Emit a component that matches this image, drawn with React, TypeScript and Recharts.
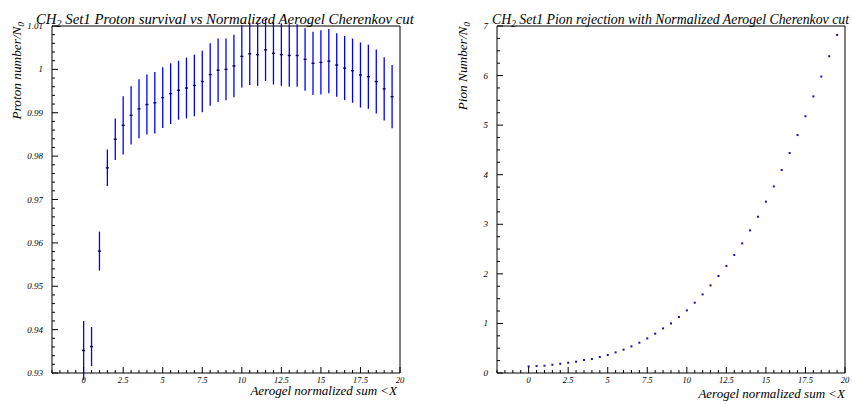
import React from 'react';
import { ScatterChart, Scatter, XAxis, YAxis, ErrorBar, ReferenceArea } from 'recharts';

// Aerogel normalized sum cut values (bin centres)
const xValues = [
  0, 0.5, 1, 1.5, 2, 2.5, 3, 3.5, 4, 4.5, 5, 5.5, 6, 6.5, 7, 7.5, 8, 8.5, 9, 9.5,
  10, 10.5, 11, 11.5, 12, 12.5, 13, 13.5, 14, 14.5, 15, 15.5, 16, 16.5, 17, 17.5, 18, 18.5, 19, 19.5,
];

const protonSurvival = [
  0.9352, 0.9361, 0.9581, 0.9773, 0.9839, 0.9871, 0.9894, 0.9909, 0.9919, 0.9923,
  0.9935, 0.9944, 0.9952, 0.9957, 0.9963, 0.9972, 0.9988, 0.9998, 1.0, 1.0008,
  1.003, 1.0036, 1.0034, 1.0045, 1.0037, 1.0034, 1.0032, 1.0032, 1.0023, 1.0014,
  1.0016, 1.0019, 1.001, 1.0003, 0.9997, 0.9987, 0.9983, 0.9972, 0.9955, 0.9937,
];

const protonError = [
  0.0068, 0.0045, 0.0045, 0.0042, 0.0048, 0.0067, 0.0067, 0.0068, 0.0069, 0.0071,
  0.007, 0.007, 0.0068, 0.007, 0.0071, 0.0071, 0.0072, 0.0073, 0.0071, 0.0072,
  0.0072, 0.0072, 0.0072, 0.0072, 0.0072, 0.0072, 0.0072, 0.0072, 0.0072, 0.0073,
  0.0074, 0.0074, 0.0073, 0.0074, 0.0074, 0.0075, 0.0074, 0.0074, 0.0073, 0.0073,
];

const pionRejection = [
  0.133, 0.14, 0.147, 0.167, 0.187, 0.207, 0.228, 0.262, 0.282, 0.323,
  0.363, 0.416, 0.47, 0.537, 0.611, 0.698, 0.793, 0.9, 1.0, 1.13,
  1.263, 1.418, 1.586, 1.767, 1.957, 2.16, 2.38, 2.615, 2.877, 3.153,
  3.456, 3.764, 4.095, 4.438, 4.8, 5.18, 5.58, 5.98, 6.39, 6.82,
];

// axis ticks (majors get a label, the rest are minor ticks)
const xTicks = Array.from({ length: 45 }, (_, i) => -2 + i * 0.5);
const xMajor = [0, 2.5, 5, 7.5, 10, 12.5, 15, 17.5, 20];
const protonTicks = Array.from({ length: 41 }, (_, i) => Math.round((0.93 + i * 0.002) * 1000) / 1000);
const protonMajor = [0.93, 0.94, 0.95, 0.96, 0.97, 0.98, 0.99, 1, 1.01];
const pionTicks = Array.from({ length: 29 }, (_, i) => i * 0.25);
const pionMajor = [0, 1, 2, 3, 4, 5, 6, 7];

const protonData = xValues.map((x, i) => ({ x, y: protonSurvival[i], err: protonError[i] }));
const pionData = xValues.map((x, i) => ({ x, y: pionRejection[i] }));

const FONT = '"Liberation Serif", "Times New Roman", serif';
const CHART_W = 426;
const CHART_H = 404;

const XTick = (props: any) => {
  const { x, y, payload } = props;
  const major = xMajor.includes(payload.value);
  return (
    <g>
      <line x1={x} x2={x} y1={y} y2={y - (major ? 6 : 3)} stroke="#000" strokeWidth={1} />
      {major && (
        <text x={x} y={y + 9.5} textAnchor="middle" fontFamily={FONT} fontStyle="italic" fontSize={8.5} fill="#000">
          {payload.value}
        </text>
      )}
    </g>
  );
};

const makeYTick = (majors: number[]) => (props: any) => {
  const { x, y, payload } = props;
  const major = majors.some((m) => Math.abs(m - payload.value) < 1e-9);
  return (
    <g>
      <line x1={x} x2={x + (major ? 6 : 3)} y1={y} y2={y} stroke="#000" strokeWidth={1} />
      {major && (
        <text x={x - 9} y={y + 3} textAnchor="end" fontFamily={FONT} fontStyle="italic" fontSize={9} fill="#000">
          {parseFloat(payload.value.toFixed(2)).toString()}
        </text>
      )}
    </g>
  );
};

const ProtonYTick = makeYTick(protonMajor);
const PionYTick = makeYTick(pionMajor);

const protonMarker = (p: any) => (
  <rect x={p.cx - 1.5} y={p.cy - 0.7} width={3} height={1.4} fill="#00005a" />
);
const pionMarker = (p: any) => (
  <rect x={p.cx - 1} y={p.cy - 1} width={2} height={2} fill="#1414a0" />
);

const App = () => {
  return (
    <div style={{ position: 'absolute', left: 0, top: 0, width: 852, height: 404, background: '#fff' }}>
      <div style={{ position: 'absolute', left: 0, top: 0 }}>
        <ScatterChart width={CHART_W} height={CHART_H} margin={{ top: 26, right: 26, bottom: 0, left: 0 }}>
          <XAxis
            type="number"
            dataKey="x"
            domain={[-2, 20]}
            allowDataOverflow
            ticks={xTicks}
            interval={0}
            tick={<XTick />}
            tickSize={0}
            tickMargin={0}
            tickLine={false}
            axisLine={false}
            height={31}
          />
          <YAxis
            type="number"
            dataKey="y"
            domain={[0.93, 1.01]}
            allowDataOverflow
            ticks={protonTicks}
            interval={0}
            tick={<ProtonYTick />}
            tickSize={0}
            tickMargin={0}
            tickLine={false}
            axisLine={false}
            width={52}
          />
          <ReferenceArea x1={-2} x2={20} y1={0.93} y2={1.01} fill="none" stroke="#000" strokeWidth={1} ifOverflow="visible" />
          <Scatter data={protonData} shape={protonMarker} isAnimationActive={false}>
            <ErrorBar dataKey="err" direction="y" width={0} stroke="#0000ff" strokeWidth={1.3} />
          </Scatter>
        </ScatterChart>
      </div>
      <div style={{ position: 'absolute', left: 426, top: 0 }}>
        <ScatterChart width={CHART_W} height={CHART_H} margin={{ top: 26, right: 7, bottom: 0, left: 0 }}>
          <XAxis
            type="number"
            dataKey="x"
            domain={[-2, 20]}
            allowDataOverflow
            ticks={xTicks}
            interval={0}
            tick={<XTick />}
            tickSize={0}
            tickMargin={0}
            tickLine={false}
            axisLine={false}
            height={31}
          />
          <YAxis
            type="number"
            dataKey="y"
            domain={[0, 7]}
            allowDataOverflow
            ticks={pionTicks}
            interval={0}
            tick={<PionYTick />}
            tickSize={0}
            tickMargin={0}
            tickLine={false}
            axisLine={false}
            width={71}
          />
          <ReferenceArea x1={-2} x2={20} y1={0} y2={7} fill="none" stroke="#000" strokeWidth={1} ifOverflow="visible" />
          <Scatter data={pionData} shape={pionMarker} isAnimationActive={false} />
        </ScatterChart>
      </div>
      <svg width={852} height={404} style={{ position: 'absolute', left: 0, top: 0, pointerEvents: 'none' }}>
        <g fontFamily={FONT} fontStyle="italic" fill="#000">
          <text x={36} y={24} fontSize={14.8}>
            CH<tspan fontSize={10} dy={3}>2</tspan>
            <tspan dy={-3}> Set1 Proton survival vs Normalized Aerogel Cherenkov cut</tspan>
          </text>
          <text x={492} y={24} fontSize={13.8}>
            CH<tspan fontSize={9.5} dy={3}>2</tspan>
            <tspan dy={-3}> Set1 Pion rejection with Normalized Aerogel Cherenkov cut</tspan>
          </text>
          <text x={397} y={395} fontSize={13}>
            <tspan textAnchor="end">Aerogel normalized sum &lt;X</tspan>
          </text>
          <text x={845} y={398} fontSize={13} textAnchor="end">Aerogel normalized sum &lt;X</text>
          <text transform="translate(21,22) rotate(-90)" fontSize={13.3} textAnchor="end">
            Proton number/N<tspan fontSize={9} dy={3}>0</tspan>
          </text>
          <text transform="translate(467,22) rotate(-90)" fontSize={13.3} textAnchor="end">
            Pion Number/N<tspan fontSize={9} dy={3}>0</tspan>
          </text>
        </g>
      </svg>
    </div>
  );
};

export default App;
